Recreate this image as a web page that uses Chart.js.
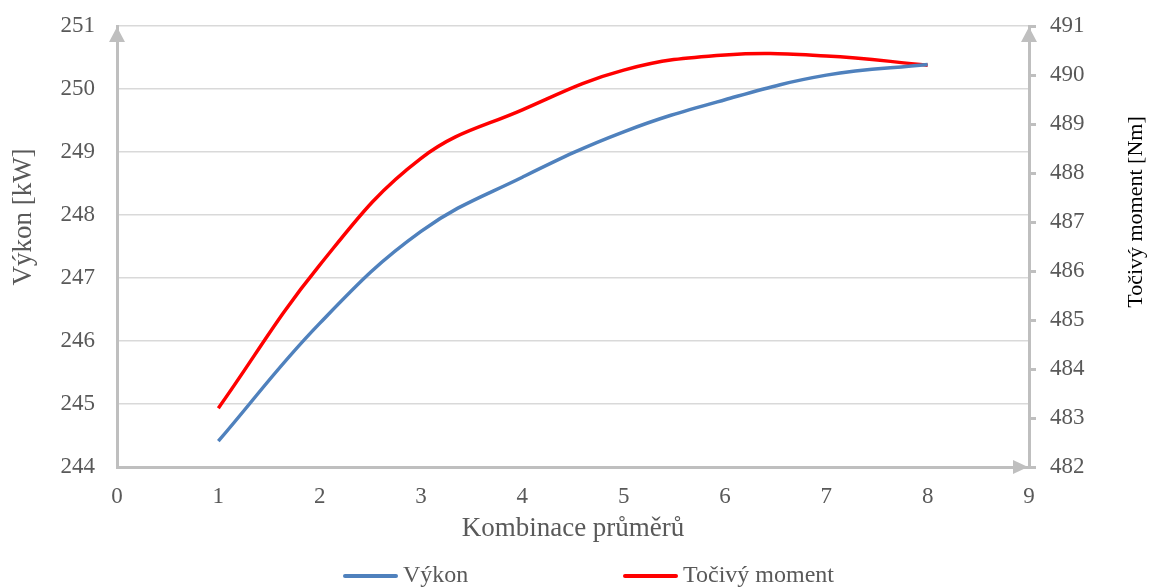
<!DOCTYPE html>
<html>
<head>
<meta charset="utf-8">
<script src="https://cdn.jsdelivr.net/npm/chart.js@4.4.1/dist/chart.umd.min.js"></script>
<style>
    html, body { margin: 0; padding: 0; background: #fff; }
    #wrap { width: 1153px; height: 588px; }
</style>
</head>
<body>
<div id="wrap"><canvas id="chart" width="1153" height="588"></canvas></div>
<script>
// data
const kombinace = [1, 2, 3, 4, 5, 6, 7, 8];
const vykon = [244.41, 246.28, 247.74, 248.6, 249.32, 249.83, 250.22, 250.39];
const tocivyMoment = [483.2, 486.12, 488.3, 489.29, 490.1, 490.41, 490.39, 490.2];

const xTicks = [0, 1, 2, 3, 4, 5, 6, 7, 8, 9];
const leftTicks = [244, 245, 246, 247, 248, 249, 250, 251];
const rightTicks = [482, 483, 484, 485, 486, 487, 488, 489, 490, 491];

const leftTitle = 'Výkon [kW]';
const rightTitle = 'Točivý moment [Nm]';

const FONT = "'Liberation Serif', 'Times New Roman', serif";
const TXT = '#595959';
const AXIS = '#bfbfbf';

// sipky na osach, svisle popisky a legenda dole
const osyPlugin = {
    id: 'osy',
    afterDraw(chart) {
        const c = chart.ctx;
        const a = chart.chartArea;
        c.save();
        c.fillStyle = AXIS;
        // sipka nahoru vlevo
        c.beginPath();
        c.moveTo(a.left, a.top + 1);
        c.lineTo(a.left - 8, a.top + 16);
        c.lineTo(a.left + 8, a.top + 16);
        c.closePath();
        c.fill();
        // sipka nahoru vpravo
        c.beginPath();
        c.moveTo(a.right, a.top + 1);
        c.lineTo(a.right - 8, a.top + 16);
        c.lineTo(a.right + 8, a.top + 16);
        c.closePath();
        c.fill();
        // sipka doprava
        c.beginPath();
        c.moveTo(a.right - 1, a.bottom);
        c.lineTo(a.right - 16, a.bottom - 7);
        c.lineTo(a.right - 16, a.bottom + 7);
        c.closePath();
        c.fill();
        c.restore();

        c.save();
        c.fillStyle = TXT;
        c.font = '27px ' + FONT;
        c.textAlign = 'center';
        c.textBaseline = 'middle';
        c.translate(24, 217);
        c.rotate(-Math.PI / 2);
        c.fillText(leftTitle, 0, 0);
        c.restore();

        c.save();
        c.fillStyle = '#000000';
        c.font = '22px ' + FONT;
        c.textAlign = 'center';
        c.textBaseline = 'middle';
        c.translate(1136, 212);
        c.rotate(-Math.PI / 2);
        c.fillText(rightTitle, 0, 0);
        c.restore();

        // legenda
        const starts = [343, 623];
        c.save();
        c.font = '24px ' + FONT;
        c.textBaseline = 'middle';
        c.textAlign = 'left';
        chart.data.datasets.forEach((ds, i) => {
            const x0 = starts[i];
            c.strokeStyle = ds.borderColor;
            c.lineWidth = 4;
            c.lineCap = 'round';
            c.beginPath();
            c.moveTo(x0 + 2, 576);
            c.lineTo(x0 + 53, 576);
            c.stroke();
            c.fillStyle = TXT;
            c.fillText(ds.label, x0 + 60, 576);
        });
        c.restore();
    }
};

function fitY(width) {
    return s => {
        s.width = width;
        s.paddingTop = 0;
        s.paddingBottom = 0;
    };
}

const ctx = document.getElementById('chart').getContext('2d');
const chart = new Chart(ctx, {
    type: 'line',
    data: {
        datasets: [{
            label: 'Výkon',
            data: kombinace.map((k, i) => ({ x: k, y: vykon[i] })),
            borderColor: '#4f81bd',
            backgroundColor: '#4f81bd',
            borderWidth: 3.5,
            pointRadius: 0,
            tension: 0.4,
            yAxisID: 'y'
        }, {
            label: 'Točivý moment',
            data: kombinace.map((k, i) => ({ x: k, y: tocivyMoment[i] })),
            borderColor: '#ff0000',
            backgroundColor: '#ff0000',
            borderWidth: 3.5,
            pointRadius: 0,
            tension: 0.4,
            yAxisID: 'y1'
        }]
    },
    options: {
        responsive: false,
        animation: false,
        layout: { padding: { top: 26, left: 0, right: 0, bottom: 0 } },
        plugins: {
            legend: { display: false },
            tooltip: { enabled: false }
        },
        scales: {
            x: {
                type: 'linear',
                min: 0,
                max: 9,
                afterBuildTicks: s => { s.ticks = xTicks.map(v => ({ value: v })); },
                afterFit: s => { s.height = 121; },
                grid: { display: false, drawTicks: false },
                border: { display: true, color: AXIS, width: 3 },
                ticks: { color: TXT, font: { family: FONT, size: 23 }, padding: 16 },
                title: {
                    display: true,
                    text: 'Kombinace průměrů',
                    color: TXT,
                    font: { family: FONT, size: 27 },
                    padding: { top: 0, bottom: 43 }
                }
            },
            y: {
                position: 'left',
                min: 244,
                max: 251,
                afterBuildTicks: s => { s.ticks = leftTicks.map(v => ({ value: v })); },
                afterFit: fitY(117),
                grid: { color: '#d9d9d9', lineWidth: 1.5, drawTicks: false },
                border: { display: true, color: AXIS, width: 3 },
                ticks: { color: TXT, font: { family: FONT, size: 23 }, padding: 22 }
            },
            y1: {
                position: 'right',
                min: 482,
                max: 491,
                afterBuildTicks: s => { s.ticks = rightTicks.map(v => ({ value: v })); },
                afterFit: fitY(124),
                grid: { drawOnChartArea: false, color: AXIS, lineWidth: 3, tickLength: 7 },
                border: { display: true, color: AXIS, width: 3 },
                ticks: { color: TXT, font: { family: FONT, size: 23 }, padding: 14 }
            }
        }
    },
    plugins: [osyPlugin]
});
</script>
</body>
</html>
